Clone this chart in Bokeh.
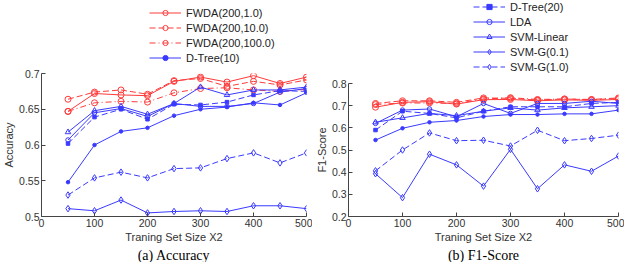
from bokeh.plotting import figure
from bokeh.models import Legend, LegendItem, Title, FixedTicker, NumeralTickFormatter
from bokeh.layouts import row, column
from bokeh.embed import file_html
from bokeh.resources import INLINE

sizes = [50, 100, 150, 200, 250, 300, 350, 400, 450, 500]
series_names = ["FWDA(200,1.0)", "FWDA(200,10.0)", "FWDA(200,100.0)", "D-Tree(10)",
                "D-Tree(20)", "LDA", "SVM-Linear", "SVM-G(0.1)", "SVM-G(1.0)"]

# Accuracy
fwda1_acc = [0.647, 0.672, 0.670, 0.669, 0.689, 0.695, 0.688, 0.697, 0.686, 0.695]
fwda10_acc = [0.664, 0.674, 0.677, 0.671, 0.690, 0.693, 0.682, 0.689, 0.684, 0.691]
fwda100_acc = [0.647, 0.659, 0.661, 0.660, 0.673, 0.679, 0.680, 0.677, 0.675, 0.678]
dtree10_acc = [0.548, 0.600, 0.619, 0.624, 0.641, 0.650, 0.653, 0.659, 0.656, 0.673]
dtree20_acc = [0.602, 0.639, 0.650, 0.636, 0.657, 0.656, 0.660, 0.670, 0.676, 0.675]
lda_acc = [0.607, 0.645, 0.651, 0.640, 0.658, 0.654, 0.654, 0.658, 0.674, 0.679]
svml_acc = [0.618, 0.648, 0.654, 0.643, 0.658, 0.681, 0.670, 0.677, 0.677, 0.681]
svmg01_acc = [0.511, 0.508, 0.523, 0.505, 0.507, 0.508, 0.507, 0.515, 0.515, 0.511]
svmg10_acc = [0.530, 0.554, 0.562, 0.554, 0.567, 0.568, 0.581, 0.589, 0.575, 0.589]

# F1-Score
fwda1_f1 = [0.693, 0.715, 0.718, 0.707, 0.727, 0.728, 0.722, 0.726, 0.724, 0.728]
fwda10_f1 = [0.710, 0.722, 0.722, 0.715, 0.735, 0.733, 0.725, 0.730, 0.727, 0.732]
fwda100_f1 = [0.705, 0.712, 0.712, 0.710, 0.730, 0.736, 0.728, 0.730, 0.728, 0.735]
dtree10_f1 = [0.545, 0.598, 0.625, 0.633, 0.651, 0.660, 0.660, 0.663, 0.663, 0.680]
dtree20_f1 = [0.590, 0.675, 0.665, 0.645, 0.675, 0.695, 0.695, 0.695, 0.710, 0.715]
lda_f1 = [0.620, 0.680, 0.685, 0.650, 0.710, 0.665, 0.710, 0.710, 0.720, 0.710]
svml_f1 = [0.625, 0.645, 0.665, 0.655, 0.675, 0.690, 0.680, 0.690, 0.695, 0.700]
svmg01_f1 = [0.393, 0.285, 0.481, 0.433, 0.337, 0.503, 0.325, 0.433, 0.404, 0.473]
svmg10_f1 = [0.406, 0.500, 0.577, 0.542, 0.544, 0.518, 0.589, 0.542, 0.552, 0.567]

acc_ticks = [0.5, 0.55, 0.6, 0.65, 0.7]
f1_ticks = [0.2, 0.3, 0.4, 0.5, 0.6, 0.7, 0.8]
x_ticks = [0, 100, 200, 300, 400, 500]

RED = "#ff3a3a"
BLUE = "#3a3aff"
styles = [
    (RED, "solid", "circle", 6, False),
    (RED, "6 3", "circle", 6, False),
    (RED, "6 3 1 3", "circle", 6, False),
    (BLUE, "solid", "circle", 3.5, True),
    (BLUE, "6 3", "square", 3.5, True),
    (BLUE, "solid", "circle", 4.5, False),
    (BLUE, "solid", "triangle", 5.5, False),
    (BLUE, "solid", "diamond", 6.5, False),
    (BLUE, "6 3", "diamond", 6.5, False),
]

FONT = "Liberation Sans"


def draw_series(p, data, idx, visible=True):
    color, dash, marker, size, filled = styles[idx]
    ln = p.line(sizes, data[idx], line_color=color, line_width=1, line_dash=dash,
                visible=visible)
    sc = p.scatter(sizes, data[idx], marker=marker, size=size, line_color=color,
                   line_width=1, fill_color=color if filled else None, visible=visible)
    return ln, sc


def make_legend_fig(data, yr, width, height, legend_idx, loc, row_h):
    p = figure(width=width, height=height, x_range=(0, 500), y_range=yr,
               output_backend="svg", toolbar_location=None, min_border=0)
    p.axis.visible = False
    p.grid.visible = False
    p.outline_line_color = None
    items = []
    for i in legend_idx:
        ln, sc = draw_series(p, data, i, visible=False)
        items.append(LegendItem(label=series_names[i], renderers=[ln, sc]))
    leg = Legend(items=items, location=loc, orientation="vertical")
    leg.border_line_color = None
    leg.background_fill_alpha = 0
    leg.inactive_fill_alpha = 0
    leg.label_text_font = FONT
    leg.label_text_font_size = "11px"
    leg.label_text_color = "#222222"
    leg.glyph_width = 32
    leg.glyph_height = row_h
    leg.label_height = row_h
    leg.spacing = 2
    leg.padding = 0
    leg.margin = 0
    leg.label_standoff = 5
    leg.click_policy = "none"
    p.add_layout(leg, "center")
    return p


def make_fig(data, yr, yticks, yfmt, ylabel, caption, width, height, br):
    p = figure(width=width, height=height, x_range=(0, 500), y_range=yr,
               output_backend="svg", toolbar_location=None,
               min_border_left=30, min_border_right=br, min_border_top=5,
               min_border_bottom=0)
    p.outline_line_color = None
    p.xgrid.visible = False
    p.ygrid.visible = False
    for i in range(len(data)):
        draw_series(p, data, i)
    for ax in (p.xaxis[0], p.yaxis[0]):
        ax.major_tick_in = 4
        ax.major_tick_out = 0
        ax.minor_tick_in = 0
        ax.minor_tick_out = 0
        ax.axis_line_color = "#444444"
        ax.major_tick_line_color = "#444444"
        ax.major_label_text_font = FONT
        ax.major_label_text_font_size = "10.5px"
        ax.major_label_text_color = "#333333"
        ax.axis_label_text_font = FONT
        ax.axis_label_text_font_size = "11px"
        ax.axis_label_text_font_style = "normal"
        ax.axis_label_text_color = "#333333"
        ax.major_label_standoff = 2
        ax.axis_label_standoff = 1
    p.xaxis.ticker = FixedTicker(ticks=x_ticks)
    p.yaxis.ticker = FixedTicker(ticks=yticks)
    p.yaxis.formatter = NumeralTickFormatter(format=yfmt)
    p.xaxis.axis_label = "Traning Set Size X2"
    p.yaxis.axis_label = ylabel
    cap = Title(text=caption, align="center", text_font="Liberation Serif",
                text_font_size="14px", text_font_style="normal", text_color="#000000",
                standoff=0)
    p.add_layout(cap, "below")
    return p


acc_data = [fwda1_acc, fwda10_acc, fwda100_acc, dtree10_acc, dtree20_acc, lda_acc,
            svml_acc, svmg01_acc, svmg10_acc]
f1_data = [fwda1_f1, fwda10_f1, fwda100_f1, dtree10_f1, dtree20_f1, lda_f1,
           svml_f1, svmg01_f1, svmg10_f1]

leg1 = make_legend_fig(acc_data, (0.5, 0.7), 312, 68, [0, 1, 2, 3], (108, 4), 13)
p1 = make_fig(acc_data, (0.5, 0.7), acc_ticks, "0.0[0]", "Accuracy", "(a) Accuracy",
              312, 194, 6)
leg2 = make_legend_fig(f1_data, (0.2, 0.8), 312, 78, [4, 5, 6, 7, 8], (125, 5), 13)
p2 = make_fig(f1_data, (0.2, 0.8), f1_ticks, "0.0", "F1-Score", "(b) F1-Score",
              312, 184, 6)

layout = row(column(leg1, p1), column(leg2, p2))
open("out.html", "w").write(file_html(layout, INLINE))
